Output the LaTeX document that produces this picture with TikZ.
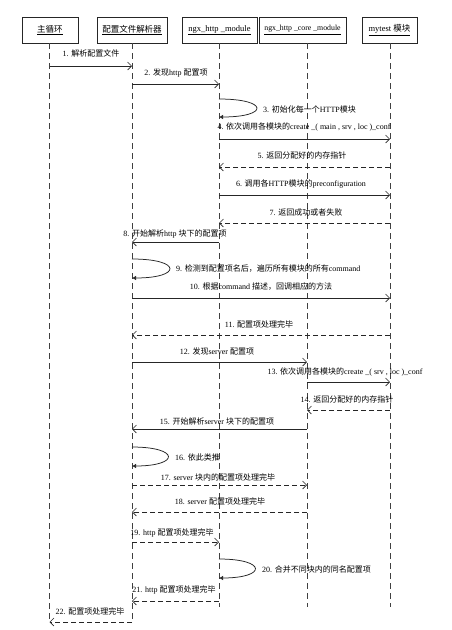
\documentclass[tikz,border=0pt]{standalone}
\usepackage{fontspec}
\setmainfont{Liberation Serif}
\newfontfamily\cjk{Noto Sans CJK SC}
\usetikzlibrary{arrows.meta}
\begin{document}
\begin{tikzpicture}[x=1pt,y=-1pt,
  head/.style={draw=black!85, line width=0.8pt, minimum height=26pt, inner sep=1pt, font=\fontsize{8.5}{10}\selectfont},
  life/.style={draw=black!75, line width=0.6pt, dash pattern=on 6pt off 4pt},
  msg/.style={draw=black!85, line width=0.65pt, -{Straight Barb[length=4pt,width=8pt]}},
  ret/.style={msg, dash pattern=on 5pt off 3pt},
  selfmsg/.style={draw=black!85, line width=0.75pt, -{Latex[length=4pt,width=4.5pt]}},
  lab/.style={font=\fontsize{8}{9}\selectfont, inner sep=0pt}]
\useasboundingbox (0,0) rectangle (451,630);
\fill[white] (0,0) rectangle (451,630);
% headers
\node[head, minimum width=56pt] (h1) at (50,30) {\underline{\cjk 主循环}};
\node[head, minimum width=70pt] (h2) at (132,30) {\underline{\cjk 配置文件解析器}};
\node[head, minimum width=75pt] (h3) at (219.5,30) {\underline{ngx\_http \_module}};
\node[head, minimum width=87pt, font=\fontsize{7.8}{9}\selectfont] (h4) at (302.5,30) {\underline{ngx\_http \_core \_module}};
\node[head, minimum width=55pt] (h5) at (389.5,30) {\underline{mytest {\cjk 模块}}};
% lifelines
\coordinate (L1) at (49.5,43); \coordinate (E1) at (49.5,622);
\coordinate (L2) at (132,43);  \coordinate (E2) at (132,622);
\coordinate (L3) at (219,43);  \coordinate (E3) at (219,607);
\coordinate (L4) at (307,43);  \coordinate (E4) at (307,607);
\coordinate (L5) at (390,43);  \coordinate (E5) at (390,607);
\foreach \i in {1,...,5} \draw[life] (L\i) -- (E\i);
% messages
\draw[msg] (L1 |- 0,66) -- (L2 |- 0,66);
\node[lab] (t1) at (91,53) {1. {\cjk 解析配置文件}};
\draw[msg] (L2 |- 0,84) -- (L3 |- 0,84);
\node[lab] (t2) at (176,73) {2. {\cjk 发现}http {\cjk 配置项}};
\draw[selfmsg] (L3 |- 0,99) .. controls (269,99) and (269,117) .. (L3 |- 0,117);
\node[lab, anchor=west] (t3) at (263,109) {3. {\cjk 初始化每一个}HTTP{\cjk 模块}};
\draw[msg] (L3 |- 0,139) -- (L5 |- 0,139);
\node[lab] (t4) at (304,127) {4. {\cjk 依次调用各模块的}create \_( main , srv , loc )\_conf};
\draw[ret] (L5 |- 0,167) -- (L3 |- 0,167);
\node[lab] (t5) at (302,155) {5. {\cjk 返回分配好的内存指针}};
\draw[msg] (L3 |- 0,195) -- (L5 |- 0,195);
\node[lab] (t6) at (301,184) {6. {\cjk 调用各}HTTP{\cjk 模块的}preconfiguration};
\draw[ret] (L5 |- 0,223) -- (L3 |- 0,223);
\node[lab] (t7) at (306,212) {7. {\cjk 返回成功或者失败}};
\draw[msg] (L3 |- 0,242) -- (L2 |- 0,242);
\node[lab] (t8) at (175,234) {8. {\cjk 开始解析}http {\cjk 块下的配置项}};
\draw[selfmsg] (L2 |- 0,259) .. controls (182,259) and (182,278) .. (L2 |- 0,278);
\node[lab, anchor=west] (t9) at (176,269) {9. {\cjk 检测到配置项名后，遍历所有模块的所有}command};
\draw[msg] (L2 |- 0,298) -- (L5 |- 0,298);
\node[lab] (t10) at (261,287) {10. {\cjk 根据}command {\cjk 描述，回调相应的方法}};
\draw[ret] (L5 |- 0,335) -- (L2 |- 0,335);
\node[lab] (t11) at (259,324) {11. {\cjk 配置项处理完毕}};
\draw[msg] (L2 |- 0,362) -- (L4 |- 0,362);
\node[lab] (t12) at (217,351) {12. {\cjk 发现}server {\cjk 配置项}};
\draw[msg] (L4 |- 0,382) -- (L5 |- 0,382);
\node[lab] (t13) at (345,372) {13. {\cjk 依次调用各模块的}create \_( srv , loc )\_conf};
\draw[ret] (L5 |- 0,410) -- (L4 |- 0,410);
\node[lab] (t14) at (347,399) {14. {\cjk 返回分配好的内存指针}};
\draw[msg] (L4 |- 0,429) -- (L2 |- 0,429);
\node[lab] (t15) at (217,421) {15. {\cjk 开始解析}server {\cjk 块下的配置项}};
\draw[selfmsg] (L2 |- 0,447) .. controls (180,447) and (180,466) .. (L2 |- 0,466);
\node[lab, anchor=west] (t16) at (175,457) {16. {\cjk 依此类推}};
\draw[ret] (L2 |- 0,485) -- (L4 |- 0,485);
\node[lab] (t17) at (218,477) {17. server {\cjk 块内的配置项处理完毕}};
\draw[ret] (L4 |- 0,512) -- (L2 |- 0,512);
\node[lab] (t18) at (220,501) {18. server {\cjk 配置项处理完毕}};
\draw[ret] (L2 |- 0,542) -- (L3 |- 0,542);
\node[lab] (t19) at (172,533) {19. http {\cjk 配置项处理完毕}};
\draw[selfmsg] (L3 |- 0,559) .. controls (267,559) and (267,578) .. (L3 |- 0,578);
\node[lab, anchor=west] (t20) at (262,569) {20. {\cjk 合并不同块内的同名配置项}};
\draw[ret] (L3 |- 0,601) -- (L2 |- 0,601);
\node[lab] (t21) at (174,590) {21. http {\cjk 配置项处理完毕}};
\draw[ret] (L2 |- 0,622) -- (L1 |- 0,622);
\node[lab] (t22) at (90,611) {22. {\cjk 配置项处理完毕}};
\end{tikzpicture}
\end{document}
